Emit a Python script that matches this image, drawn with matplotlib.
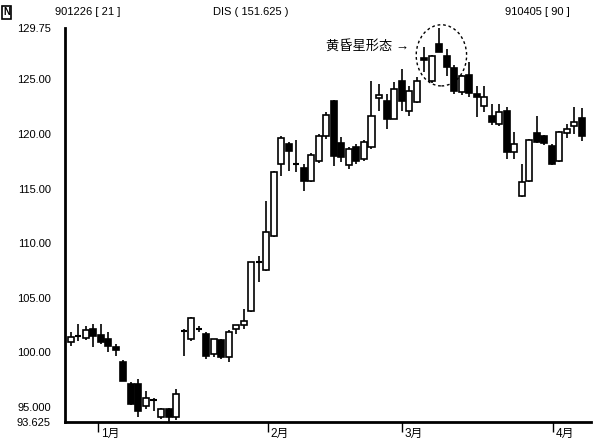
import matplotlib
matplotlib.use("Agg")
import matplotlib.pyplot as plt
import matplotlib.transforms as mtransforms
from matplotlib.patches import Rectangle, Ellipse

plt.rcParams['font.family'] = ['Liberation Sans', 'Noto Sans CJK SC', 'DejaVu Sans']

# daily candles, 901226 .. 910405
opens = [100.92, 101.47, 101.28, 102.11, 101.56, 101.19, 100.46, 99.08, 97.07, 97.07,
         95.05, 95.60, 94.05, 94.78, 94.05, 101.92, 101.19, 102.11, 101.65, 99.82,
         101.10, 99.54, 102.11, 102.47, 103.75, 108.24, 107.51, 110.62, 117.22, 119.05,
         117.22, 116.85, 115.66, 117.49, 119.78, 122.99, 119.14, 117.12, 118.77, 117.67,
         118.77, 123.26, 122.99, 121.34, 124.82, 122.07, 122.89, 127.00, 124.82, 128.21,
         127.11, 126.00, 123.81, 125.37, 123.63, 122.53, 121.61, 120.88, 122.07, 118.32,
         114.29, 115.66, 120.05, 119.78, 118.86, 117.49, 120.05, 120.70, 121.43]
highs = [101.83, 102.56, 102.38, 102.56, 102.56, 101.83, 100.73, 99.27, 97.25, 97.53,
         96.43, 95.79, 94.87, 94.87, 96.61, 102.11, 103.21, 102.38, 101.83, 101.19,
         101.19, 102.01, 102.38, 103.94, 108.24, 108.79, 113.83, 116.58, 119.78, 119.23,
         119.41, 117.22, 118.22, 119.96, 121.98, 123.08, 119.69, 118.77, 119.05, 119.41,
         124.82, 124.54, 123.63, 124.73, 125.92, 124.36, 125.18, 127.93, 127.20, 129.75,
         127.75, 126.30, 125.40, 126.56, 124.36, 124.36, 122.71, 122.70, 122.44, 120.20,
         117.22, 119.50, 121.61, 119.90, 119.05, 120.24, 120.88, 122.44, 122.35]
lows = [100.55, 101.01, 101.10, 100.46, 100.73, 100.00, 99.63, 97.34, 95.15, 94.05,
        94.78, 94.60, 93.86, 93.625, 93.77, 99.63, 101.01, 101.83, 99.36, 99.60,
        99.36, 99.08, 101.65, 102.11, 103.66, 106.41, 107.42, 110.53, 116.12, 116.58,
        116.48, 114.74, 115.57, 117.31, 119.51, 117.03, 117.40, 116.76, 117.22, 117.49,
        118.59, 122.07, 120.42, 121.34, 122.07, 121.61, 122.80, 125.64, 124.70, 127.47,
        125.27, 123.70, 123.60, 123.35, 121.52, 121.98, 120.80, 120.70, 117.67, 117.67,
        114.20, 115.60, 119.14, 119.00, 117.12, 117.40, 119.60, 119.96, 119.32]
closes = [101.37, 101.56, 102.01, 101.47, 100.92, 100.55, 100.18, 97.34, 95.24, 94.60,
          95.79, 95.65, 94.78, 94.05, 96.15, 101.95, 103.11, 102.15, 99.63, 101.19,
          99.54, 101.83, 102.47, 102.84, 108.24, 108.30, 110.99, 116.48, 119.60, 118.40,
          117.25, 115.66, 118.04, 119.78, 121.70, 117.95, 117.86, 118.59, 117.49, 119.23,
          121.61, 123.53, 121.34, 124.08, 122.99, 123.90, 124.82, 126.74, 127.11, 127.47,
          126.10, 123.90, 125.27, 123.72, 123.35, 123.35, 121.06, 121.98, 118.32, 119.05,
          115.57, 119.41, 119.23, 119.14, 117.22, 120.15, 120.42, 121.06, 119.78]

ytick_vals = [93.625, 95.0, 100.0, 105.0, 110.0, 115.0, 120.0, 125.0, 129.75]
ytick_labels = ['93.625', '95.000', '100.00', '105.00', '110.00', '115.00', '120.00', '125.00', '129.75']
month_pos = [3.6, 26.2, 44.0, 64.1]
month_labels = ['1月', '2月', '3月', '4月']

fig = plt.figure(figsize=(6, 4.44), dpi=100)
ax = fig.add_axes([0.108, 0.05, 0.877, 0.888])

w = 0.8
for i in range(len(opens)):
    o, h, l, c = opens[i], highs[i], lows[i], closes[i]
    ax.vlines(i, l, h, color='black', linewidth=1.2, zorder=1)
    lo = min(o, c)
    hgt = abs(c - o)
    if hgt < 0.12:
        ax.hlines(o, i - w / 2, i + w / 2, color='black', linewidth=1.5, zorder=2)
        continue
    fc = 'white' if c > o else 'black'
    ax.add_patch(Rectangle((i - w / 2, lo), w, hgt, facecolor=fc,
                           edgecolor='black', linewidth=1.2, zorder=2))

ax.set_xlim(-0.8, len(opens) + 0.2)
ax.set_ylim(93.625, 129.75)

for s in ['top', 'right']:
    ax.spines[s].set_visible(False)
ax.spines['left'].set_linewidth(2)
ax.spines['bottom'].set_linewidth(2)

ax.set_yticks(ytick_vals)
ax.set_yticklabels(ytick_labels, fontsize=8)
ax.tick_params(axis='y', length=0, pad=10)
ax.set_xticks(month_pos)
ax.set_xticklabels([])
ax.tick_params(axis='x', length=7, width=1, direction='out')

trans = mtransforms.blended_transform_factory(ax.transData, ax.transAxes)
for p, lab in zip(month_pos, month_labels):
    ax.text(p + 0.4, -0.03, lab, transform=trans, fontsize=8.5, ha='left', va='center')

# evening star marker
ax.add_patch(Ellipse((49.3, 127.2), 6.7, 5.6, fill=False, linestyle=(0, (2, 2)),
                     linewidth=1, edgecolor='black', zorder=3, clip_on=False))
ax.text(34.0, 128.0, '黄昏星形态 →', fontsize=9.5, ha='left', va='center')

fig.text(0.005, 0.972, 'N', fontsize=7, fontweight='bold', va='center',
         bbox=dict(boxstyle='square,pad=0.15', facecolor='white', edgecolor='black', linewidth=1.2))
fig.text(0.092, 0.972, '901226 [ 21 ]', fontsize=8, va='center')
fig.text(0.355, 0.972, 'DIS ( 151.625 )', fontsize=8, va='center')
fig.text(0.842, 0.972, '910405 [ 90 ]', fontsize=8, va='center')

fig.savefig('out.png', dpi=100)
